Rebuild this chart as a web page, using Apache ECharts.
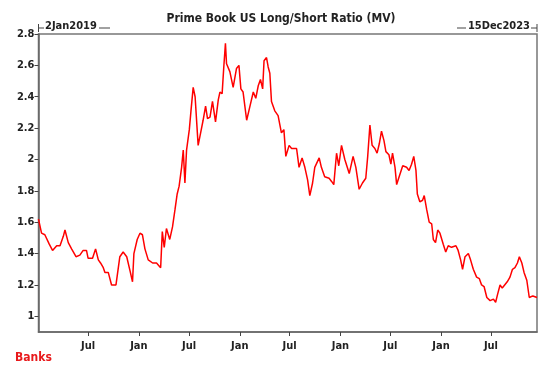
<!DOCTYPE html>
<html>
<head>
<meta charset="utf-8">
<script src="https://cdn.jsdelivr.net/npm/echarts@6/dist/echarts.min.js"></script>
<style>
  html, body { margin: 0; padding: 0; background: #ffffff; }
  #chart { width: 555px; height: 375px; }
</style>
</head>
<body>
<div id="chart"></div>
<script>
// readings of the long/short ratio
var dates = [
    '2019-01-02', '2019-01-13', '2019-01-25', '2019-01-31', '2019-02-10', '2019-02-22', '2019-03-09', '2019-03-21',
    '2019-04-02', '2019-04-08', '2019-04-20', '2019-05-02', '2019-05-18', '2019-06-01', '2019-06-13', '2019-06-25',
    '2019-07-01', '2019-07-17', '2019-07-28', '2019-08-07', '2019-08-15', '2019-08-25', '2019-08-31', '2019-09-12',
    '2019-09-24', '2019-10-10', '2019-10-24', '2019-11-05', '2019-11-18', '2019-11-30', '2019-12-09', '2019-12-14',
    '2019-12-26', '2020-01-05', '2020-01-14', '2020-01-23', '2020-02-04', '2020-02-20', '2020-03-05', '2020-03-20',
    '2020-03-26', '2020-04-02', '2020-04-10', '2020-04-22', '2020-05-02', '2020-05-11', '2020-05-19', '2020-05-26',
    '2020-06-04', '2020-06-10', '2020-06-16', '2020-06-22', '2020-07-02', '2020-07-08', '2020-07-16', '2020-07-23',
    '2020-08-03', '2020-08-12', '2020-08-21', '2020-08-30', '2020-09-06', '2020-09-15', '2020-09-24', '2020-10-05',
    '2020-10-15', '2020-10-21', '2020-10-29', '2020-11-04', '2020-11-10', '2020-11-14', '2020-11-26', '2020-12-08',
    '2020-12-20', '2020-12-29', '2021-01-05', '2021-01-13', '2021-01-26', '2021-02-07', '2021-02-19', '2021-02-28',
    '2021-03-09', '2021-03-17', '2021-03-25', '2021-03-30', '2021-04-08', '2021-04-14', '2021-04-20', '2021-04-26',
    '2021-05-08', '2021-05-20', '2021-06-01', '2021-06-10', '2021-06-17', '2021-06-29', '2021-07-08', '2021-07-26',
    '2021-08-04', '2021-08-15', '2021-08-25', '2021-09-04', '2021-09-12', '2021-09-22', '2021-09-30', '2021-10-16',
    '2021-10-24', '2021-11-05', '2021-11-21', '2021-11-30', '2021-12-08', '2021-12-18', '2021-12-26', '2022-01-05',
    '2022-01-17', '2022-02-02', '2022-02-16', '2022-02-26', '2022-03-10', '2022-03-22', '2022-04-03', '2022-04-10',
    '2022-04-18', '2022-04-26', '2022-05-06', '2022-05-14', '2022-05-22', '2022-05-30', '2022-06-08', '2022-06-15',
    '2022-06-26', '2022-07-03', '2022-07-09', '2022-07-18', '2022-07-24', '2022-08-02', '2022-08-15', '2022-08-29',
    '2022-09-07', '2022-09-16', '2022-09-24', '2022-10-02', '2022-10-07', '2022-10-16', '2022-10-26', '2022-11-01',
    '2022-11-10', '2022-11-19', '2022-11-28', '2022-12-04', '2022-12-12', '2022-12-20', '2022-12-28', '2023-01-09',
    '2023-01-18', '2023-01-27', '2023-02-08', '2023-02-24', '2023-03-04', '2023-03-13', '2023-03-20', '2023-03-29',
    '2023-04-10', '2023-04-18', '2023-04-28', '2023-05-10', '2023-05-20', '2023-05-28', '2023-06-06', '2023-06-16',
    '2023-06-28', '2023-07-10', '2023-07-18', '2023-07-25', '2023-08-03', '2023-08-11', '2023-08-18', '2023-08-29',
    '2023-09-08', '2023-09-17', '2023-09-26', '2023-10-05', '2023-10-12', '2023-10-21', '2023-10-29', '2023-11-08',
    '2023-11-17', '2023-11-30', '2023-12-15'
];
var ratio = [
    1.62, 1.53, 1.52, 1.52, 1.46, 1.42, 1.45, 1.45,
    1.51, 1.55, 1.47, 1.43, 1.38, 1.39, 1.42, 1.42,
    1.37, 1.37, 1.43, 1.36, 1.34, 1.31, 1.28, 1.28,
    1.20, 1.20, 1.38, 1.41, 1.38, 1.29, 1.22, 1.40,
    1.49, 1.53, 1.52, 1.43, 1.36, 1.34, 1.34, 1.31,
    1.54, 1.44, 1.56, 1.49, 1.57, 1.68, 1.78, 1.83,
    1.95, 2.06, 1.85, 2.06, 2.19, 2.31, 2.46, 2.40,
    2.09, 2.17, 2.25, 2.34, 2.26, 2.27, 2.37, 2.24,
    2.38, 2.43, 2.42, 2.59, 2.74, 2.61, 2.56, 2.46,
    2.58, 2.60, 2.45, 2.43, 2.25, 2.34, 2.43, 2.39,
    2.47, 2.51, 2.45, 2.63, 2.65, 2.59, 2.55, 2.37,
    2.31, 2.28, 2.17, 2.19, 2.02, 2.09, 2.07, 2.07,
    1.95, 2.01, 1.95, 1.87, 1.77, 1.85, 1.95, 2.01,
    1.95, 1.89, 1.88, 1.86, 1.84, 2.04, 1.96, 2.09,
    2.00, 1.91, 2.02, 1.95, 1.81, 1.85, 1.88, 2.02,
    2.22, 2.09, 2.07, 2.04, 2.10, 2.18, 2.12, 2.05,
    2.03, 1.97, 2.04, 1.95, 1.84, 1.89, 1.96, 1.95,
    1.93, 1.97, 2.02, 1.93, 1.78, 1.73, 1.74, 1.77,
    1.68, 1.60, 1.59, 1.49, 1.47, 1.55, 1.53, 1.46,
    1.41, 1.45, 1.44, 1.45, 1.42, 1.36, 1.30, 1.38,
    1.40, 1.36, 1.30, 1.25, 1.24, 1.20, 1.19, 1.12,
    1.10, 1.11, 1.09, 1.14, 1.20, 1.18, 1.19, 1.22,
    1.25, 1.30, 1.31, 1.34, 1.38, 1.34, 1.28, 1.23,
    1.12, 1.13, 1.12
];
// tick labels
var xTicks = ['2019-07-01', '2020-01-01', '2020-07-01', '2021-01-01', '2021-07-01',
    '2022-01-01', '2022-07-01', '2023-01-01', '2023-07-01'];
var yTicks = [1, 1.2, 1.4, 1.6, 1.8, 2, 2.2, 2.4, 2.6, 2.8];

function toMs(s) {
    return new Date(s + 'T00:00:00').getTime();
}

var fontFamily = '"Liberation Sans Narrow", "DejaVu Sans Condensed", "Roboto", sans-serif';
var months = ['Jan', 'Feb', 'Mar', 'Apr', 'May', 'Jun', 'Jul', 'Aug', 'Sep', 'Oct', 'Nov', 'Dec'];

var chart = echarts.init(document.getElementById('chart'), null, { renderer: 'canvas' });

var option = {
    backgroundColor: '#ffffff',
    animation: false,
    grid: {
        left: 38.5,
        right: 18,
        top: 34,
        bottom: 43,
        show: true,
        borderColor: '#777',
        borderWidth: 1.5
    },
    // dates plotted as timestamps on a value axis, labelled by month
    xAxis: {
        type: 'value',
        min: toMs(dates[0]),
        max: toMs(dates[dates.length - 1]),
        axisLine: { show: true, lineStyle: { color: '#666', width: 1.5 } },
        axisTick: {
            show: true,
            customValues: xTicks.map(toMs),
            length: 4,
            lineStyle: { color: '#444' }
        },
        axisLabel: {
            customValues: xTicks.map(toMs),
            formatter: function (v) { return months[new Date(v).getMonth()]; },
            fontFamily: fontFamily,
            fontWeight: 'bold',
            fontSize: 11,
            color: '#222',
            margin: 9
        },
        splitLine: { show: false }
    },
    yAxis: {
        type: 'value',
        min: 0.9,
        max: 2.8,
        axisLine: { show: true, lineStyle: { color: '#666', width: 1.5 } },
        axisTick: {
            show: true,
            customValues: yTicks,
            length: 4,
            lineStyle: { color: '#444' }
        },
        axisLabel: {
            customValues: yTicks,
            fontFamily: fontFamily,
            fontWeight: 'bold',
            fontSize: 11,
            color: '#222',
            margin: 4
        },
        splitLine: { show: false }
    },
    graphic: [
        // title
        { type: 'text', x: 281, y: 13, style: { text: 'Prime Book US Long/Short Ratio (MV)', font: 'bold 12px ' + fontFamily, fill: '#222', align: 'center' } },
        // start date marker
        { type: 'line', shape: { x1: 38.5, y1: 24, x2: 38.5, y2: 32 }, style: { stroke: '#444', lineWidth: 1 } },
        { type: 'line', shape: { x1: 38.5, y1: 28, x2: 44, y2: 28 }, style: { stroke: '#444', lineWidth: 1 } },
        { type: 'text', left: 45, top: 21, style: { text: '2Jan2019', font: 'bold 11px ' + fontFamily, fill: '#222' } },
        { type: 'line', shape: { x1: 99, y1: 28, x2: 110, y2: 28 }, style: { stroke: '#444', lineWidth: 1 } },
        // end date marker
        { type: 'line', shape: { x1: 457, y1: 28, x2: 466, y2: 28 }, style: { stroke: '#444', lineWidth: 1 } },
        { type: 'text', right: 25, top: 21, style: { text: '15Dec2023', font: 'bold 11px ' + fontFamily, fill: '#222' } },
        { type: 'line', shape: { x1: 531, y1: 28, x2: 537, y2: 28 }, style: { stroke: '#444', lineWidth: 1 } },
        { type: 'line', shape: { x1: 537, y1: 24, x2: 537, y2: 32 }, style: { stroke: '#444', lineWidth: 1 } },
        // source label
        { type: 'text', left: 15, top: 352, style: { text: 'Banks', font: 'bold 12px ' + fontFamily, fill: '#e8191b' } }
    ],
    series: [{
        name: 'Prime Book US Long/Short Ratio (MV)',
        type: 'line',
        showSymbol: false,
        data: dates.map(function (d, i) { return [toMs(d), ratio[i]]; }),
        lineStyle: { color: '#ff0000', width: 1.5 }
    }]
};
chart.setOption(option);

window.onresize = function () {
    chart.resize();
};
</script>
</body>
</html>
